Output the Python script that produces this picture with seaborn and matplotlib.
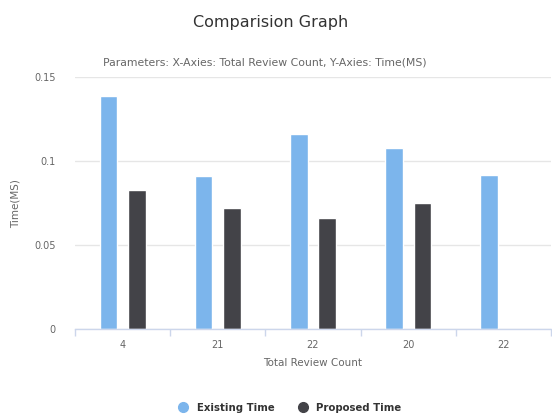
import numpy as np
import pandas as pd
import matplotlib
matplotlib.use("Agg")
import matplotlib.pyplot as plt
from matplotlib.lines import Line2D
import seaborn as sns

# Review counts shown on the x axis (values repeat, so each bar group gets its own slot)
categories = ["4", "21", "22", "20", "22"]
existing_time = [0.139, 0.091, 0.116, 0.108, 0.092]
proposed_time = [0.083, 0.072, 0.066, 0.075, np.nan]
series_names = ["Existing Time", "Proposed Time"]
colors = ["#7cb5ec", "#434348"]

slots = list(range(len(categories)))
df = pd.DataFrame({
    "slot": slots * 2,
    "time": existing_time + proposed_time,
    "series": [series_names[0]] * len(slots) + [series_names[1]] * len(slots),
})

sns.set_theme(style="white")
plt.rcParams["font.family"] = ["DejaVu Sans"]

fig = plt.figure(figsize=(5.52, 4.17), dpi=100)
ax = fig.add_axes([0.136, 0.211, 0.862, 0.604])

sns.barplot(data=df, x="slot", y="time", hue="series", order=slots,
            hue_order=series_names, palette=colors, width=0.6, gap=0.38,
            saturation=1, legend=False, ax=ax)

ax.set_ylim(0, 0.15)
ax.set_xlim(-0.5, len(categories) - 0.5)
ax.set_yticks([0, 0.05, 0.1, 0.15])
ax.set_yticklabels(["0", "0.05", "0.1", "0.15"])
ax.set_xticks(slots)
ax.set_xticklabels(categories)
ax.set_xticks(np.arange(-0.5, len(categories), 1.0), minor=True)

ax.yaxis.grid(True, color="#e6e6e6", linewidth=1)
ax.set_axisbelow(True)
for side in ["top", "right", "left"]:
    ax.spines[side].set_visible(False)
ax.spines["bottom"].set_color("#ccd6eb")
ax.spines["bottom"].set_linewidth(1)

ax.tick_params(axis="y", which="both", length=0, pad=14, labelsize=7, labelcolor="#666666")
ax.tick_params(axis="x", which="major", length=0, pad=8, labelsize=7, labelcolor="#666666")
ax.tick_params(axis="x", which="minor", length=5, width=1, color="#ccd6eb", bottom=True)

ax.set_xlabel("Total Review Count", fontsize=7.5, color="#666666", labelpad=6)
ax.set_ylabel("Time(MS)", fontsize=7.5, color="#666666", labelpad=10)

fig.text(0.49, 0.947, "Comparision Graph", ha="center", va="center",
         fontsize=11.5, color="#333333")
fig.text(0.48, 0.851, "Parameters: X-Axies: Total Review Count, Y-Axies: Time(MS)",
         ha="center", va="center", fontsize=7.8, color="#666666")

handles = [Line2D([0], [0], marker="o", linestyle="", markersize=7,
                  markerfacecolor=c, markeredgecolor=c) for c in colors]
fig.legend(handles, series_names, loc="center", bbox_to_anchor=(0.52, 0.022),
           ncol=2, frameon=False, handletextpad=0.3, columnspacing=1.8,
           prop={"size": 7.3, "weight": "bold"}, labelcolor="#333333")

fig.savefig("out.png", dpi=100, facecolor="white")
